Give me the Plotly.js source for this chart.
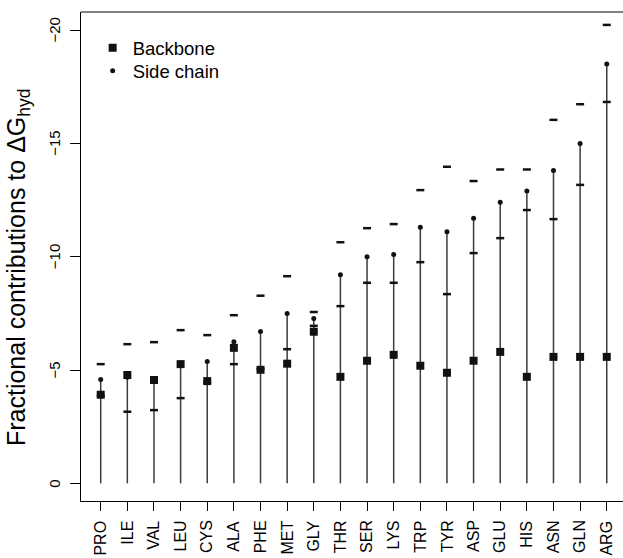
<!DOCTYPE html>
<html>
<head>
<meta charset="utf-8">
<script src="https://cdn.plot.ly/plotly-3.0.1.min.js"></script>
<style>html,body{margin:0;padding:0;background:#fff;overflow:hidden}</style>
</head>
<body>
<div id="chart" style="width:623px;height:558px"></div>
<script>
const residues = ['PRO','ILE','VAL','LEU','CYS','ALA','PHE','MET','GLY','THR','SER','LYS','TRP','TYR','ASP','GLU','HIS','ASN','GLN','ARG'];
const backbone = [-3.91,-4.78,-4.56,-5.26,-4.51,-5.98,-5.01,-5.28,-6.69,-4.70,-5.41,-5.67,-5.19,-4.88,-5.41,-5.80,-4.70,-5.58,-5.58,-5.58];
const sideChain = [-4.58,-4.68,-4.60,-5.28,-5.38,-6.25,-6.70,-7.50,-7.27,-9.20,-10.00,-10.10,-11.30,-11.10,-11.70,-12.40,-12.90,-13.80,-15.00,-18.50];
const sideUpper = [-5.26,-6.14,-6.23,-6.76,-6.54,-7.42,-8.28,-9.14,-7.56,-10.64,-11.26,-11.44,-12.94,-13.97,-13.34,-13.85,-13.85,-16.04,-16.73,-20.23];
const sideLower = [-3.86,-3.16,-3.23,-3.76,-4.45,-5.26,-5.04,-5.92,-6.95,-7.82,-8.85,-8.85,-9.76,-8.35,-10.16,-10.82,-12.06,-11.66,-13.17,-16.83];
const yTickVals = [0,-5,-10,-15,-20];
const yTickText = ['0','\u22125','\u221210','\u221215','\u221220'];

const FONT = 'Liberation Sans, Arial, Helvetica, sans-serif';

const traces = [
  {
    type:'scatter', mode:'markers', name:'Side chain', legend:'legend2',
    x: residues, y: sideChain,
    marker:{symbol:'circle', size:5, color:'#111'},
    error_y:{type:'data', symmetric:false, array: sideChain.map(v => -v), arrayminus: sideChain.map(() => 0),
             width:0, color:'#3c3c3c', thickness:1.5},
    hoverinfo:'skip'
  },
  {
    type:'scatter', mode:'markers', showlegend:false,
    x: residues, y: sideUpper,
    marker:{symbol:'line-ew', size:5.7, color:'#111', line:{color:'#111', width:2.5}},
    hoverinfo:'skip'
  },
  {
    type:'scatter', mode:'markers', showlegend:false,
    x: residues, y: sideLower,
    marker:{symbol:'line-ew', size:5.7, color:'#111', line:{color:'#111', width:2.5}},
    hoverinfo:'skip'
  },
  {
    type:'scatter', mode:'markers', name:'Backbone', legend:'legend',
    x: residues, y: backbone,
    marker:{symbol:'square', size:8, color:'#111'},
    hoverinfo:'skip'
  }
];

// Rotated tick labels, placed through the axes' own scales
const xLabelAnns = residues.map(r => ({
  xref:'x', yref:'paper', x:r, y:-0.0375, xanchor:'center', yanchor:'top',
  textangle:-90, showarrow:false, text:r, borderpad:0,
  font:{family:FONT, size:16, color:'#000'}
}));
const yLabelAnns = yTickVals.map((v, i) => ({
  xref:'paper', yref:'y', x:-0.0315, y:v, xanchor:'right', yanchor:'middle',
  textangle:-90, showarrow:false, text:yTickText[i], borderpad:0,
  font:{family:FONT, size:15, color:'#000'}
}));

const legendFont = {family:FONT, size:18.5, color:'#000'};
const layout = {
  width:623, height:558,
  margin:{l:81, r:0, t:12, b:57, pad:0},
  paper_bgcolor:'#fff', plot_bgcolor:'#fff',
  font:{family:FONT, color:'#000'},
  showlegend:true,
  legend:{x:0.0215, y:0.965, xanchor:'left', yanchor:'top', bgcolor:'rgba(0,0,0,0)', font:legendFont, itemwidth:30},
  legend2:{x:0.0215, y:0.9176, xanchor:'left', yanchor:'top', bgcolor:'rgba(0,0,0,0)', font:legendFont, itemwidth:30},
  xaxis:{
    type:'category', categoryorder:'array', categoryarray:residues,
    range:[-0.74, 19.61], showgrid:false, zeroline:false,
    showline:true, linecolor:'#000', linewidth:1,
    ticks:'outside', ticklen:9, tickcolor:'#000', tickwidth:1,
    showticklabels:false
  },
  yaxis:{
    range:[0.78, -20.8], showgrid:false, zeroline:false,
    showline:true, linecolor:'#000', linewidth:1,
    ticks:'outside', ticklen:10, tickcolor:'#000', tickwidth:1,
    tickvals:yTickVals, showticklabels:false
  },
  shapes:[
    {type:'line', xref:'paper', yref:'paper', x0:0, x1:1, y0:1, y1:1, line:{color:'#000', width:1}}
  ],
  annotations:[
    {xref:'paper', yref:'paper', x:-0.1162, y:0.4785, xanchor:'center', yanchor:'middle',
     textangle:-90, showarrow:false,
     text:'Fractional contributions to \u0394G<sub>hyd</sub>',
     font:{family:FONT, size:25, color:'#000'}}
  ].concat(xLabelAnns, yLabelAnns)
};

Plotly.newPlot('chart', traces, layout, {displayModeBar:false});
</script>
</body>
</html>
